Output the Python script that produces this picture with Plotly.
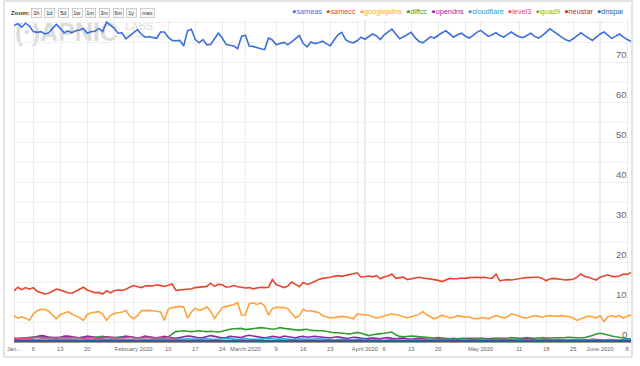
import pandas as pd
import plotly.graph_objects as go

START = "2020-01-01"
X_END = "2020-06-09"

sameas = [79.1, 79.6, 78.7, 79.7, 79.0, 77.6, 77.4, 77.6, 77.0, 77.3,
          78.4, 79.4, 78.4, 77.3, 77.8, 77.3, 77.8, 78.0, 78.4, 77.2,
          77.6, 77.7, 78.4, 77.6, 80.0, 79.2, 78.4, 77.2, 77.3, 75.8,
          76.5, 77.2, 78.1, 77.0, 76.2, 76.3, 76.1, 75.9, 77.5, 77.5,
          76.2, 75.4, 75.3, 75.4, 74.0, 77.8, 78.2, 75.6, 74.8, 75.6,
          74.3, 74.4, 75.8, 77.2, 76.0, 74.4, 74.2, 74.0, 73.3, 76.4,
          76.7, 74.0, 73.9, 73.5, 73.3, 73.1, 76.0, 75.5, 74.3, 74.6,
          74.9, 74.3, 75.0, 75.8, 76.6, 74.6, 73.8, 75.0, 74.6, 74.8,
          75.2, 74.6, 74.0, 75.5, 76.8, 77.4, 75.6, 75.0, 74.8, 75.3,
          76.2, 75.7, 76.4, 77.0, 76.5, 75.6, 76.8, 77.6, 78.2, 77.0,
          75.8, 76.3, 76.9, 77.4, 76.1, 75.2, 74.8, 75.6, 76.3, 76.0,
          76.7, 77.3, 77.8, 76.9, 76.2, 76.8, 77.2, 76.5, 76.0, 76.6,
          77.4, 77.9, 77.1, 76.4, 76.8, 77.3, 76.6, 76.2, 76.9, 77.5,
          76.8, 76.3, 76.1, 76.7, 77.2, 76.4, 76.0, 76.6, 77.4, 78.3,
          77.6, 76.8, 76.2, 75.6, 75.2, 75.8, 76.6, 77.3, 76.6, 76.0,
          75.4, 76.2, 77.0, 77.5, 76.8, 75.9, 76.4, 77.0, 76.3, 75.6,
          75.2]

samecc = [12.8, 13.7, 13.1, 13.6, 13.2, 13.6, 12.7, 12.4, 12.0, 12.2,
          12.6, 13.2, 13.0, 12.7, 12.3, 12.2, 12.7, 13.1, 13.7, 13.0,
          12.6, 12.3, 12.4, 12.0, 12.8, 12.3, 12.8, 13.0, 12.9, 13.2,
          13.7, 14.1, 13.8, 13.6, 14.0, 14.1, 14.0, 14.3, 14.1, 13.9,
          14.2, 14.5, 12.9, 13.0, 13.0, 13.2, 13.3, 13.6, 13.7, 13.8,
          13.9, 14.7, 13.9, 14.4, 14.3, 13.7, 13.8, 14.1, 13.8, 13.7,
          13.5, 13.6, 13.3, 13.5, 13.7, 13.6, 13.7, 15.6, 14.3, 14.0,
          13.6, 14.0, 15.0, 14.4, 13.8, 14.9, 14.4, 14.7, 15.2, 15.6,
          15.9, 16.0, 16.2, 16.4, 16.6, 16.4, 16.6, 16.8, 17.0, 17.3,
          16.2, 16.4, 16.5, 16.3, 16.6, 15.8, 16.3, 16.5, 17.0, 15.9,
          16.1, 16.2, 15.6, 15.8, 15.9, 16.2, 16.0, 15.9, 15.8, 15.6,
          15.4, 15.1, 15.5, 15.9, 15.8, 15.8, 16.0, 15.9, 16.1, 16.2,
          16.2, 16.1, 16.2, 16.0, 15.9, 17.0, 15.3, 15.5, 15.6, 15.5,
          15.7, 15.9, 16.0, 16.1, 16.2, 16.2, 16.2, 15.9, 15.3, 15.8,
          15.9, 15.8, 15.6, 15.5, 15.6, 15.7, 16.2, 17.0, 16.4, 16.2,
          15.8, 15.5, 16.2, 16.6, 16.8, 16.4, 16.3, 16.5, 17.0, 16.9,
          17.4]

googlepdns = [6.6, 5.9, 6.3, 6.0, 5.4, 7.0, 7.8, 8.2, 8.1, 7.7,
              6.7, 5.8, 6.8, 7.3, 7.6, 7.0, 6.6, 6.1, 5.4, 6.9,
              7.3, 7.5, 7.6, 7.0, 5.4, 6.6, 7.1, 7.3, 7.5, 7.9,
              6.5, 5.8, 6.5, 7.8, 7.9, 7.9, 7.8, 7.7, 7.5, 5.4,
              8.2, 8.6, 8.8, 8.9, 8.8, 6.0, 7.5, 8.4, 7.9, 8.2,
              8.8, 7.7, 5.9, 7.3, 8.6, 8.9, 9.1, 9.3, 9.9, 6.7,
              6.8, 9.6, 9.8, 9.4, 9.8, 9.0, 6.7, 8.4, 8.7, 8.7,
              8.6, 8.3, 7.2, 6.0, 6.6, 8.2, 7.7, 7.8, 7.6, 7.4,
              6.6, 6.3, 6.0, 6.1, 6.3, 6.4, 6.3, 6.0, 5.8, 7.0,
              6.9, 6.8, 6.7, 6.3, 6.0, 6.2, 6.6, 6.8, 7.0, 6.9,
              6.7, 6.3, 6.0, 6.3, 6.6, 6.9, 7.6, 6.8, 6.3, 5.8,
              6.2, 6.7, 6.4, 6.0, 6.2, 6.6, 6.4, 6.2, 6.3, 5.9,
              5.8, 6.0, 6.1, 5.8, 6.2, 6.6, 6.3, 6.0, 6.3, 7.0,
              6.8, 6.5, 6.1, 6.0, 6.3, 6.6, 6.4, 6.2, 6.5, 6.6,
              6.5, 6.4, 6.6, 6.5, 6.3, 6.0, 5.4, 5.8, 6.2, 6.5,
              6.3, 6.0, 6.6, 5.1, 6.3, 6.6, 6.3, 6.6, 6.0, 6.4,
              6.8]

diffcc = [0.9, 0.8, 0.9, 1.0, 1.1, 1.2, 1.4, 1.5, 1.3, 1.2,
          1.1, 1.0, 1.2, 1.4, 1.3, 1.1, 1.0, 1.1, 1.3, 1.4,
          1.3, 1.2, 1.3, 1.4, 1.2, 1.0, 1.1, 1.2, 1.3, 1.4,
          1.3, 1.2, 1.0, 1.1, 1.3, 1.2, 1.1, 1.0, 0.9, 1.0,
          1.2, 2.0, 2.6, 2.7, 2.8, 2.7, 2.6, 2.7, 2.8, 2.7,
          2.6, 2.7, 2.6, 2.5, 2.7, 3.0, 3.2, 3.3, 3.3, 3.4,
          3.1, 3.2, 3.3, 3.4, 3.6, 3.5, 3.3, 3.2, 3.3, 3.6,
          3.4, 3.3, 3.2, 3.0, 2.9, 3.1, 3.2, 2.9, 2.8, 2.8,
          2.8, 2.6, 2.4, 2.3, 2.3, 2.2, 2.0, 2.0, 2.2, 2.4,
          2.2, 1.9, 1.6, 1.8, 2.0, 2.1, 2.2, 2.4, 2.5, 1.8,
          1.4, 1.3, 1.4, 1.5, 1.4, 1.3, 1.2, 1.2, 1.1, 1.0,
          1.1, 1.0, 0.9, 0.8, 0.9, 0.8, 0.9, 0.9, 0.8, 0.9,
          0.9, 1.0, 0.9, 0.8, 0.9, 1.0, 0.9, 0.9, 1.0, 1.1,
          1.0, 0.9, 1.0, 1.1, 1.0, 0.9, 1.0, 1.1, 1.0, 1.0,
          1.1, 1.0, 1.0, 1.1, 1.2, 1.1, 1.0, 1.0, 1.1, 1.3,
          1.6, 2.0, 2.2, 2.0, 1.7, 1.5, 1.3, 1.2, 1.0, 0.8,
          0.6]

opendns = [0.6, 0.6, 0.7, 0.8, 0.9, 1.1, 1.3, 1.6, 1.5, 1.2,
           1.1, 1.0, 1.1, 1.4, 1.5, 1.3, 1.1, 1.0, 1.2, 1.4,
           1.3, 1.2, 1.0, 1.1, 1.3, 1.2, 1.1, 1.0, 1.2, 1.4,
           1.3, 1.1, 1.0, 1.2, 1.5, 1.3, 1.1, 1.0, 1.2, 1.4,
           1.2, 1.0, 0.9, 1.1, 1.3, 1.5, 1.4, 1.2, 1.0, 1.1,
           1.3, 1.6, 1.4, 1.2, 1.0, 1.1, 1.4, 1.3, 1.2, 1.1,
           1.5, 1.7, 1.5, 1.3, 1.1, 1.0, 1.2, 1.4, 1.3, 1.1,
           1.5, 1.4, 1.2, 1.0, 1.3, 1.4, 1.2, 1.3, 1.4, 1.3,
           1.2, 1.1, 1.0, 1.2, 1.3, 1.1, 0.9, 1.0, 1.2, 1.1,
           1.0, 0.8, 0.9, 1.0, 0.9, 0.8, 1.0, 1.1, 0.9, 0.8,
           0.9, 1.0, 0.8, 0.7, 0.8, 0.9, 0.8, 0.7, 0.6, 0.7,
           0.8, 0.7, 0.6, 0.6, 0.7, 0.6, 0.5, 0.6, 0.7, 0.6,
           0.5, 0.5, 0.6, 0.7, 0.6, 0.5, 0.6, 0.7, 0.6, 0.5,
           0.5, 0.6, 0.7, 0.8, 0.7, 0.6, 0.5, 0.6, 0.7, 0.6,
           0.5, 0.6, 0.5, 0.4, 0.5, 0.6, 0.5, 0.4, 0.5, 0.6,
           0.7, 0.6, 0.5, 0.4, 0.5, 0.6, 0.5, 0.4, 0.5, 0.6,
           0.5]

cloudflare = [0.5, 0.5, 0.6, 0.6, 0.7, 0.6, 0.6, 0.7, 0.8, 0.7,
              0.6, 0.6, 0.7, 0.7, 0.6, 0.6, 0.7, 0.8, 0.7, 0.6,
              0.6, 0.7, 0.7, 0.8, 0.7, 0.6, 0.6, 0.7, 0.7, 0.6,
              0.6, 0.7, 0.8, 0.7, 0.6, 0.6, 0.7, 0.7, 0.6, 0.6,
              0.7, 0.7, 0.6, 0.6, 0.7, 0.8, 0.7, 0.6, 0.6, 0.7,
              0.8, 0.7, 0.6, 0.7, 0.8, 0.9, 0.8, 0.7, 0.6, 0.7,
              0.8, 0.7, 0.7, 0.6, 0.7, 0.8, 0.9, 0.8, 0.7, 0.7,
              0.8, 0.7, 0.6, 0.7, 0.8, 0.7, 0.7, 0.6, 0.7, 0.8,
              0.7, 0.6, 0.6, 0.5, 0.6, 0.7, 0.6, 0.5, 0.5, 0.6,
              0.7, 0.6, 0.5, 0.5, 0.6, 0.5, 0.4, 0.5, 0.6, 0.5,
              0.5, 0.4, 0.5, 0.6, 0.5, 0.4, 0.4, 0.5, 0.6, 0.5,
              0.4, 0.5, 0.5, 0.6, 0.5, 0.4, 0.5, 0.6, 0.5, 0.4,
              0.4, 0.5, 0.6, 0.5, 0.4, 0.5, 0.5, 0.6, 0.5, 0.4,
              0.5, 0.6, 0.5, 0.4, 0.4, 0.5, 0.6, 0.5, 0.4, 0.5,
              0.5, 0.6, 0.5, 0.4, 0.5, 0.5, 0.6, 0.5, 0.4, 0.5,
              0.6, 0.5, 0.4, 0.5, 0.6, 0.5, 0.4, 0.5, 0.6, 0.7,
              0.8]

level3 = [0.9, 1.0, 1.0, 0.9, 1.0, 1.1, 1.2, 1.1, 1.0, 1.0,
          1.1, 1.2, 1.1, 1.0, 1.0, 1.1, 1.2, 1.0, 0.9, 1.0,
          1.1, 1.0, 0.9, 1.0, 1.1, 1.2, 1.1, 1.0, 1.0, 1.1,
          1.2, 1.1, 1.0, 1.1, 1.2, 1.1, 1.0, 1.1, 1.2, 1.0,
          1.1, 0.9, 0.4, 0.0]

quad9 = [0.2, 0.2, 0.2, 0.3, 0.2, 0.2, 0.3, 0.3, 0.2, 0.2,
         0.2, 0.3, 0.2, 0.2, 0.2, 0.3, 0.3, 0.2, 0.2, 0.2,
         0.3, 0.2, 0.2, 0.2, 0.3, 0.3, 0.2, 0.2, 0.2, 0.3,
         0.2, 0.2, 0.3, 0.3, 0.2, 0.2, 0.2, 0.3, 0.2, 0.2,
         0.2, 0.3, 0.3, 0.2, 0.2, 0.2, 0.3, 0.2, 0.2, 0.2,
         0.3, 0.3, 0.2, 0.2, 0.2, 0.3, 0.2, 0.2, 0.3, 0.3,
         0.2, 0.2, 0.2, 0.3, 0.2, 0.2, 0.2, 0.3, 0.3, 0.2,
         0.2, 0.2, 0.3, 0.2, 0.2, 0.2, 0.3, 0.3, 0.2, 0.2,
         0.2, 0.2, 0.3, 0.2, 0.2, 0.2, 0.2, 0.3, 0.2, 0.2,
         0.2, 0.2, 0.2, 0.3, 0.2, 0.2, 0.2, 0.2, 0.3, 0.2,
         0.2, 0.2, 0.2, 0.2, 0.3, 0.2, 0.2, 0.2, 0.2, 0.2,
         0.3, 0.2, 0.2, 0.2, 0.2, 0.2, 0.3, 0.2, 0.2, 0.2,
         0.2, 0.2, 0.3, 0.2, 0.2, 0.2, 0.2, 0.2, 0.3, 0.2,
         0.2, 0.2, 0.2, 0.2, 0.3, 0.2, 0.2, 0.2, 0.2, 0.2,
         0.3, 0.2, 0.2, 0.2, 0.2, 0.2, 0.3, 0.2, 0.2, 0.2,
         0.2, 0.2, 0.3, 0.2, 0.2, 0.2, 0.2, 0.2, 0.3, 0.2,
         0.2]

neustar = [0.1, 0.1, 0.1, 0.1, 0.1, 0.1, 0.1, 0.1, 0.1, 0.1,
           0.1, 0.1, 0.1, 0.1, 0.1, 0.1, 0.1, 0.1, 0.1, 0.1,
           0.1, 0.1, 0.1, 0.1, 0.1, 0.1, 0.1, 0.1, 0.1, 0.1,
           0.1, 0.1, 0.1, 0.1, 0.1, 0.1, 0.1, 0.1, 0.1, 0.1,
           0.1, 0.1, 0.1, 0.1, 0.1, 0.1, 0.1, 0.1, 0.1, 0.1,
           0.1, 0.1, 0.1, 0.1, 0.1, 0.1, 0.1, 0.1, 0.1, 0.1,
           0.1, 0.1, 0.1, 0.1, 0.1, 0.1, 0.1, 0.1, 0.1, 0.1,
           0.1, 0.1, 0.1, 0.1, 0.1, 0.1, 0.1, 0.1, 0.1, 0.1,
           0.1, 0.1, 0.1, 0.1, 0.1, 0.1, 0.1, 0.1, 0.1, 0.1,
           0.1, 0.1, 0.1, 0.1, 0.1, 0.1, 0.1, 0.1, 0.1, 0.1,
           0.1, 0.1, 0.1, 0.1, 0.1, 0.1, 0.1, 0.1, 0.1, 0.1,
           0.1, 0.1, 0.1, 0.1, 0.1, 0.1, 0.1, 0.1, 0.1, 0.1,
           0.1, 0.1, 0.1, 0.1, 0.1, 0.1, 0.1, 0.1, 0.1, 0.1,
           0.1, 0.1, 0.1, 0.1, 0.1, 0.1, 0.1, 0.1, 0.1, 0.1,
           0.1, 0.1, 0.1, 0.1, 0.1, 0.1, 0.1, 0.1, 0.1, 0.1,
           0.1, 0.1, 0.1, 0.1, 0.1, 0.1, 0.1, 0.1, 0.1, 0.1,
           0.1]

dnspai = [0.3, 0.3, 0.3, 0.4, 0.3, 0.3, 0.3, 0.4, 0.3, 0.3,
          0.3, 0.3, 0.4, 0.3, 0.3, 0.3, 0.3, 0.4, 0.3, 0.3,
          0.3, 0.4, 0.3, 0.3, 0.3, 0.3, 0.4, 0.3, 0.3, 0.3,
          0.3, 0.4, 0.3, 0.3, 0.3, 0.3, 0.4, 0.3, 0.3, 0.3,
          0.3, 0.3, 0.4, 0.3, 0.3, 0.3, 0.4, 0.3, 0.3, 0.3,
          0.3, 0.4, 0.3, 0.3, 0.3, 0.3, 0.4, 0.3, 0.3, 0.3,
          0.3, 0.3, 0.4, 0.3, 0.3, 0.3, 0.4, 0.3, 0.3, 0.3,
          0.3, 0.4, 0.3, 0.3, 0.3, 0.3, 0.4, 0.3, 0.3, 0.3,
          0.3, 0.3, 0.3, 0.4, 0.3, 0.3, 0.3, 0.3, 0.3, 0.4,
          0.3, 0.3, 0.3, 0.3, 0.3, 0.4, 0.3, 0.3, 0.3, 0.3,
          0.3, 0.4, 0.3, 0.3, 0.3, 0.3, 0.3, 0.4, 0.3, 0.3,
          0.3, 0.3, 0.3, 0.4, 0.3, 0.3, 0.3, 0.3, 0.3, 0.4,
          0.3, 0.3, 0.3, 0.3, 0.3, 0.4, 0.3, 0.3, 0.3, 0.3,
          0.3, 0.4, 0.3, 0.3, 0.3, 0.3, 0.3, 0.4, 0.3, 0.3,
          0.3, 0.3, 0.3, 0.4, 0.3, 0.3, 0.3, 0.3, 0.3, 0.4,
          0.3, 0.3, 0.3, 0.3, 0.3, 0.4, 0.3, 0.3, 0.3, 0.3,
          0.3]

series_names = ["sameas", "samecc", "googlepdns", "diffcc", "opendns",
                "cloudflare", "level3", "quad9", "neustar", "dnspai"]
series_values = [sameas, samecc, googlepdns, diffcc, opendns,
                 cloudflare, level3, quad9, neustar, dnspai]
series_colors = ["#3d6fdc", "#e8452f", "#ffa23a", "#2f9e2f", "#9c1fa8",
                 "#1ba5d2", "#e8457c", "#74b82e", "#c4262f", "#2f5b98"]

tick_dates = ["2020-01-01", "2020-01-06", "2020-01-13", "2020-01-20", "2020-01-27",
              "2020-02-01", "2020-02-10", "2020-02-17", "2020-02-24",
              "2020-03-01", "2020-03-09", "2020-03-16", "2020-03-23", "2020-03-30",
              "2020-04-01", "2020-04-06", "2020-04-13", "2020-04-20", "2020-04-27",
              "2020-05-01", "2020-05-11", "2020-05-18", "2020-05-25",
              "2020-06-01", "2020-06-08"]
tick_labels = ["Jan...", "6", "13", "20", "",
               "February 2020", "10", "17", "24",
               "March 2020", "9", "16", "23", "",
               "April 2020", "6", "13", "20", "",
               "May 2020", "11", "18", "25",
               "June 2020", "8"]
month_starts = ["2020-01-01", "2020-02-01", "2020-03-01", "2020-04-01",
                "2020-05-01", "2020-06-01"]
y_tick_values = [0, 10, 20, 30, 40, 50, 60, 70]
zoom_buttons = ["1h", "1d", "5d", "1w", "1m", "3m", "6m", "1y", "max"]

W, H = 640, 366
ML, MR, MT, MB = 14, 9, 20, 24
PW, PH = W - ML - MR, H - MT - MB


def px_x(px):
    return (px - ML) / PW


def px_y(py):
    return (H - MB - py) / PH


fig = go.Figure()
for name, vals, col in zip(series_names, series_values, series_colors):
    fig.add_trace(go.Scatter(
        x=pd.date_range(START, periods=len(vals), freq="D"), y=vals,
        name=name, mode="lines",
        line=dict(color=col, width=1.6), showlegend=False))

shapes = []
for d in month_starts:
    shapes.append(dict(type="line", xref="x", yref="paper", x0=d, x1=d, y0=0, y1=1,
                       line=dict(color="#d2d2d2", width=1), layer="below"))
# outer frame
shapes.append(dict(type="rect", xref="paper", yref="paper",
                   x0=px_x(4), x1=px_x(632), y0=px_y(357), y1=px_y(1),
                   line=dict(color="#c8c8c8", width=1), fillcolor="rgba(0,0,0,0)"))
# watermark
shapes.append(dict(type="rect", xref="paper", yref="paper",
                   x0=px_x(12), x1=px_x(122), y0=px_y(44), y1=px_y(16),
                   line=dict(width=0), fillcolor="rgba(0,0,0,0)", layer="below",
                   label=dict(text="<b>(·)APNIC</b>", textposition="middle left",
                              font=dict(size=25, color="#dcdcdc", family="Liberation Sans"),
                              padding=0)))
shapes.append(dict(type="rect", xref="paper", yref="paper",
                   x0=px_x(122), x1=px_x(170), y0=px_y(32), y1=px_y(18),
                   line=dict(width=0), fillcolor="rgba(0,0,0,0)", layer="below",
                   label=dict(text="LABS", textposition="middle left",
                              font=dict(size=11, color="#dcdcdc", family="Liberation Sans"),
                              padding=0)))
shapes.append(dict(type="rect", xref="paper", yref="paper",
                   x0=px_x(122), x1=px_x(190), y0=px_y(40), y1=px_y(32),
                   line=dict(width=0), fillcolor="rgba(0,0,0,0)", layer="below",
                   label=dict(text="http://labs.apnic.net", textposition="middle left",
                              font=dict(size=5, color="#dcdcdc", family="Liberation Sans"),
                              padding=0)))

annotations = []
legend_text = "\u00a0\u00a0".join(
    f"<span style='color:{c}'>●{n}</span>" for n, c in zip(series_names, series_colors))
annotations.append(dict(xref="paper", yref="paper", x=px_x(625), y=px_y(12),
                        xanchor="right", yanchor="middle", showarrow=False,
                        text=legend_text,
                        font=dict(size=7.3, family="Liberation Sans")))
annotations.append(dict(xref="paper", yref="paper", x=px_x(9), y=px_y(13),
                        xanchor="left", yanchor="middle", showarrow=False,
                        text="<b>Zoom:</b>",
                        font=dict(size=6.2, color="#333333", family="Liberation Sans")))
bx = 31
for lab in zoom_buttons:
    wbtn = 10 if len(lab) == 2 else 14
    annotations.append(dict(xref="paper", yref="paper", x=px_x(bx + wbtn / 2), y=px_y(13),
                            xanchor="center", yanchor="middle", showarrow=False,
                            text=lab, width=wbtn - 2, height=7,
                            bgcolor="#f7f7f7", bordercolor="#c4c4c4", borderwidth=0.8,
                            borderpad=0.5,
                            font=dict(size=5.6, color="#333333", family="Liberation Sans")))
    bx += wbtn + 3.7
for v in y_tick_values:
    annotations.append(dict(xref="paper", yref="y", x=px_x(629), y=v,
                            xanchor="right", yanchor="middle", yshift=8,
                            showarrow=False, text=str(v),
                            font=dict(size=9.5, color="#666666", family="Liberation Sans")))

fig.update_layout(
    width=W, height=H,
    margin=dict(l=ML, r=MR, t=MT, b=MB, autoexpand=False),
    paper_bgcolor="white", plot_bgcolor="white",
    shapes=shapes, annotations=annotations,
    font=dict(family="Liberation Sans", color="#666666"),
    hovermode=False,
    xaxis=dict(range=[START, X_END], tickmode="array",
               tickvals=tick_dates, ticktext=tick_labels, tickangle=0,
               automargin=False, ticklabelstandoff=1,
               showgrid=True, gridcolor="#ececec", gridwidth=1,
               showline=True, linecolor="#9a9a9a", linewidth=1,
               ticks="", tickfont=dict(size=5.8, color="#666666"),
               zeroline=False),
    yaxis=dict(range=[0, 80.5], side="right", dtick=5, tick0=0,
               automargin=False, showticklabels=False,
               showgrid=True, gridcolor="#f0f0f0",
               showline=False, zeroline=False, ticks=""),
)

fig.write_html("out.html", config={"displayModeBar": False, "staticPlot": True},
               post_script="document.body.style.margin='0';document.body.style.overflow='hidden';")
